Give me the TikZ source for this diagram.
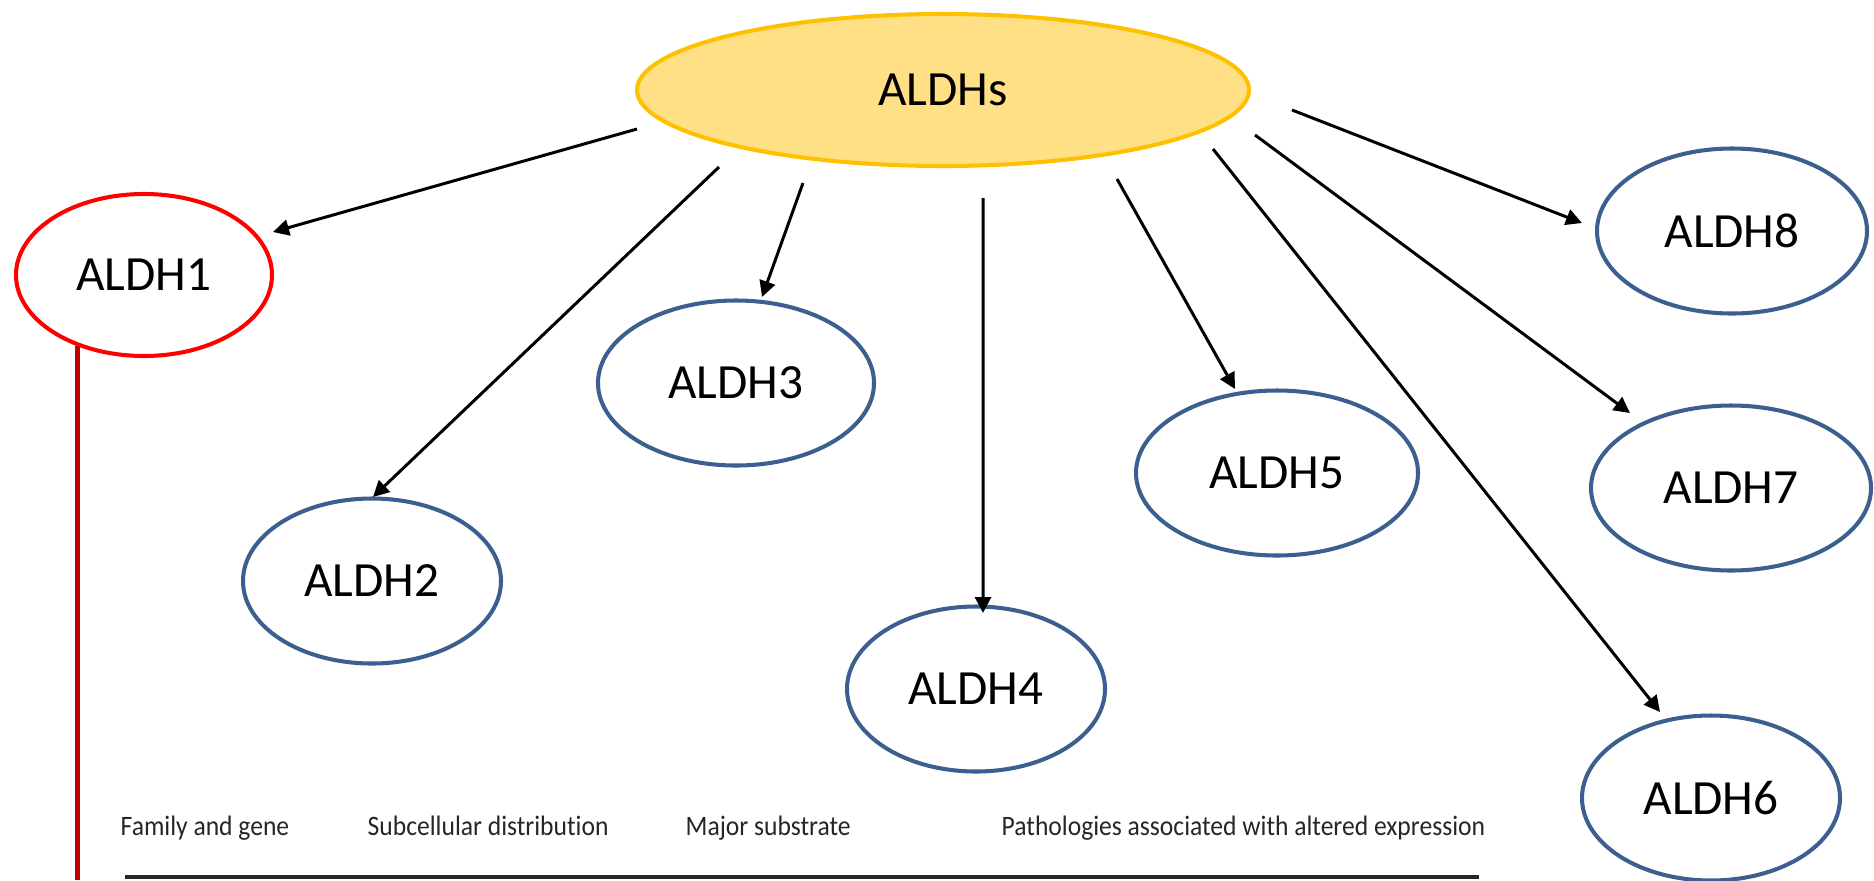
\documentclass[tikz,border=0pt]{standalone}
\usepackage{fontspec}
\setmainfont{Carlito}
\newfontfamily\stretto[FakeStretch=0.91, Ligatures=NoCommon]{Carlito}
\usetikzlibrary{shapes.geometric, arrows.meta, calc}
\definecolor{bordoblu}{HTML}{3B5F8E}
\definecolor{bordooro}{HTML}{FFC000}
\definecolor{fondooro}{HTML}{FFE085}
\definecolor{rossoscuro}{HTML}{C00000}

\begin{document}
\begin{tikzpicture}[
  font=\fontsize{14}{17}\selectfont,
  enzima/.style={ellipse, draw=bordoblu, line width=1.15pt, inner sep=0pt,
                 minimum width=2.6cm, minimum height=1.65cm},
  famiglia/.style={ellipse, draw=bordooro, fill=fondooro, line width=1.15pt,
                   inner sep=0pt, minimum width=6.12cm, minimum height=1.52cm},
  punta/.style={-{Triangle[length=0.16cm,width=0.16cm]}},
  freccia/.style={draw=black, line width=0.85pt, punta},
  intestazione/.style={anchor=base west, inner sep=0pt, text=black!85,
                       font=\stretto\fontsize{8}{10}\selectfont}
]
\useasboundingbox (0,0) rectangle (18.74,-8.80);

\node[famiglia] (ALDHs) at (9.43,-0.90) {ALDHs};
\node[enzima, draw=red, minimum width=2.56cm, minimum height=1.62cm] (ALDH1) at (1.44,-2.75) {ALDH1};

\foreach \n/\x/\y/\w in {2/3.72/-5.81/2.58, 3/7.36/-3.83/2.76, 4/9.76/-6.89/2.58,
    5/12.77/-4.73/2.82, 6/17.11/-7.98/2.58, 7/17.31/-4.88/2.80, 8/17.32/-2.31/2.70} {
  \node[enzima, minimum width=\w cm] (ALDH\n) at (\x,\y) {ALDH\n};
}

\foreach \n/\sx/\sy/\ex/\ey in {1/-3.06/-0.39/1.29/0.43, 2/-2.24/-0.77/0.01/0.84,
    3/-1.40/-0.93/0.26/0.86, 4/0.40/-1.08/0.07/0.76, 5/1.74/-0.89/-0.42/0.84,
    6/2.70/-0.59/-0.51/0.86, 7/3.12/-0.45/-1.01/0.75, 8/3.49/-0.20/-1.50/0.08} {
  \draw[freccia] ($(ALDHs)+(\sx,\sy)$) -- ($(ALDH\n)+(\ex,\ey)$);
}

% ramo ALDH1
\coordinate (fondo) at (0,-8.80);
\draw[rossoscuro, line width=1.2pt] (ALDH1.227) -- (ALDH1.227 |- fondo);

% intestazione tabella
\node[intestazione] (famgene) at (1.20,-8.35) {Family and gene};
\node[intestazione] (subcell) at (3.67,-8.35) {Subcellular distribution};
\node[intestazione] (substr) at (6.85,-8.35) {Major substrate};
\node[intestazione] (patol) at (10.01,-8.35) {Pathologies associated with altered expression};
\draw[black!85, line width=1.3pt] (1.25,-8.77) -- (14.79,-8.77);

\end{tikzpicture}
\end{document}
